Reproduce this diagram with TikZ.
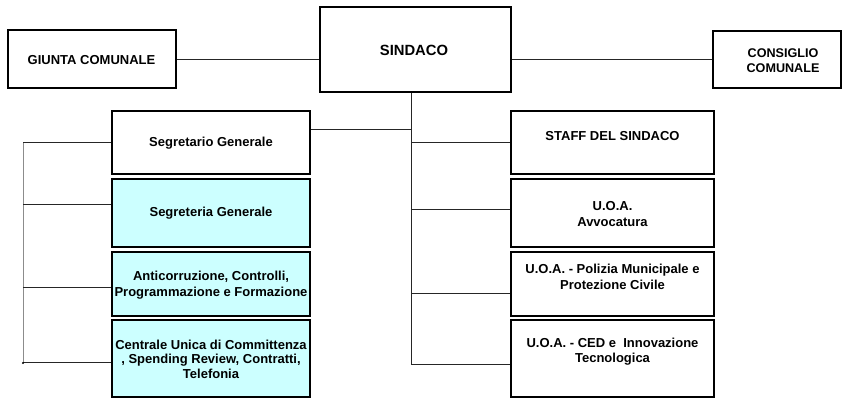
\documentclass[tikz,border=0pt]{standalone}
\usepackage{fontspec}
\setmainfont{Liberation Sans}
\definecolor{boxcyan}{HTML}{CCFFFF}
\begin{document}
\begin{tikzpicture}[x=1pt,y=1pt,
  box/.style={draw=black, line width=1.2pt, minimum width=#1, inner sep=0pt},
  wbox/.style={box=198pt},
  cbox/.style={box=198pt, fill=boxcyan},
  rbox/.style={box=203pt},
  lbl/.style={font=\bfseries\fontsize{13}{16}\selectfont, align=center, inner sep=0pt},
  conn/.style={draw=black!85, line width=0.9pt},
  lconn/.style={draw=black!45, line width=0.8pt}]
\useasboundingbox (0,0) rectangle (842,-399);
% top row
\node[box=168pt, minimum height=58pt] (giunta) at (92,-59) {};
\node[lbl] (tgiunta) at (91.5,-60) {GIUNTA COMUNALE};
\node[box=191pt, minimum height=85pt] (sindaco) at (415.5,-49.5) {};
\node[lbl, font=\bfseries\fontsize{14.8}{17}\selectfont] (tsindaco) at (414,-50) {SINDACO};
\node[box=128pt, minimum height=57pt] (consiglio) at (777,-59.5) {};
\node[lbl, font=\bfseries\fontsize{12.6}{15}\selectfont] (tconsiglio) at (783,-60.5) {CONSIGLIO\\COMUNALE};
% left column
\node[wbox, minimum height=63pt] (segretario) at (211,-142.5) {};
\node[lbl] (tsegretario) at (211,-143) {Segretario Generale};
\node[cbox, minimum height=68pt] (segreteria) at (211,-213) {};
\node[lbl] (tsegreteria) at (211,-213) {Segreteria Generale};
\node[cbox, minimum height=64pt] (anticorr) at (211,-284) {};
\node[lbl] (tanticorr) at (211,-285) {Anticorruzione, Controlli,\\Programmazione e Formazione};
\node[cbox, minimum height=77pt] (centrale) at (211,-358.5) {};
\node[lbl, font=\bfseries\fontsize{13}{14.5}\selectfont] (tcentrale) at (211,-359) {Centrale Unica di Committenza\\, Spending Review, Contratti,\\Telefonia};
% right column
\node[rbox, minimum height=63pt] (staff) at (612.5,-142.5) {};
\node[lbl] (tstaff) at (612.5,-136) {STAFF DEL SINDACO};
\node[rbox, minimum height=68pt] (avv) at (612.5,-213) {};
\node[lbl] (tavv) at (612.5,-214) {U.O.A.\\Avvocatura};
\node[rbox, minimum height=64pt] (polizia) at (612.5,-284) {};
\node[lbl] (tpolizia) at (612.5,-277) {U.O.A. - Polizia Municipale e\\Protezione Civile};
\node[rbox, minimum height=77pt] (ced) at (612.5,-358.5) {};
\node[lbl, font=\bfseries\fontsize{13}{15}\selectfont] (tced) at (612.5,-351.5) {U.O.A. - CED e\ \ Innovazione\\Tecnologica};
% coordinates for trunks
\coordinate (trunkbot) at (411,-365);
\coordinate (ltop) at (23,-142);
\coordinate (lbot) at (23,-363);
% connectors top
\draw[conn] (giunta.east) -- (sindaco.west |- giunta.east);
\draw[conn] (sindaco.east |- consiglio.west) -- (consiglio.west);
\draw[conn] (sindaco.south -| trunkbot) -- (trunkbot);
\draw[conn] ([yshift=13.5pt]segretario.east) -- ([yshift=13.5pt]segretario.east -| trunkbot);
% right branches
\draw[conn] (staff.west -| trunkbot) -- (staff.west);
\draw[conn] ([yshift=4pt]avv.west -| trunkbot) -- ([yshift=4pt]avv.west);
\draw[conn] ([yshift=-9pt]polizia.west -| trunkbot) -- ([yshift=-9pt]polizia.west);
\draw[conn] ([yshift=-5.5pt]ced.west -| trunkbot) -- ([yshift=-5.5pt]ced.west);
% left branches
\draw[lconn] (ltop) -- (lbot);
\draw[conn] (ltop) -- (segretario.west |- ltop);
\draw[conn] ([yshift=9pt]segreteria.west -| ltop) -- ([yshift=9pt]segreteria.west);
\draw[conn] ([yshift=-3pt]anticorr.west -| ltop) -- ([yshift=-3pt]anticorr.west);
\draw[conn] ([yshift=-3.5pt]centrale.west -| ltop) -- ([yshift=-3.5pt]centrale.west);
\fill[black] (lbot) circle (1.2pt);
\end{tikzpicture}
\end{document}
